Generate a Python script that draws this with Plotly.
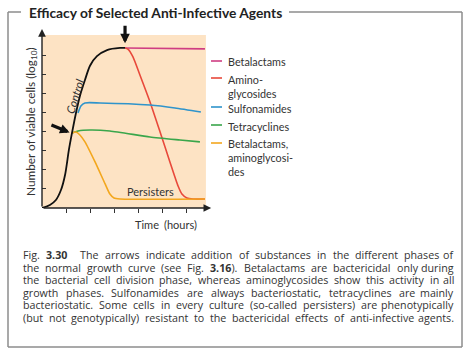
import re
import plotly.graph_objects as go

W, H = 467, 354

# ---------------- data (x: time tick units, y: log10 viable cells) ----------------
control_x = [0, 0.33, 0.58, 0.79, 0.96, 1.12, 1.25, 1.42, 1.6, 1.79, 2.0, 2.29, 2.71, 3.25, 3.46]
control_y = [0, 0.16, 0.42, 0.94, 1.73, 3.04, 3.93, 5.0, 5.95, 6.70, 7.45, 7.95, 8.27, 8.38, 8.38]

betalactams_x = [3.46, 6.79]
betalactams_y = [8.38, 8.33]

amino_x = [3.46, 3.58, 3.79, 4.08, 4.5, 4.92, 5.33, 5.67, 5.83, 6.04, 6.29, 6.79]
amino_y = [8.38, 8.32, 7.91, 6.96, 5.55, 3.98, 2.41, 1.15, 0.73, 0.52, 0.47, 0.47]

sulfo_x = [1.5, 1.62, 1.79, 2.42, 4.5, 5.54, 6.62]
sulfo_y = [4.97, 5.34, 5.50, 5.50, 5.39, 5.24, 5.03]

tetra_x = [1.25, 1.5, 2.0, 2.83, 4.5, 5.75, 6.58]
tetra_y = [3.93, 4.03, 4.08, 4.03, 3.72, 3.56, 3.46]

combo_x = [1.25, 1.42, 1.58, 1.79, 2.21, 2.63, 2.83, 3.0, 3.25, 6.79]
combo_y = [3.93, 3.98, 3.82, 3.46, 2.41, 1.26, 0.73, 0.52, 0.47, 0.47]

series_names = ["Betalactams", "Amino-<br>glycosides", "Sulfonamides", "Tetracyclines",
                "Betalactams,<br>aminoglycosi-<br>des"]
series_colors = ["#cf3d82", "#e8493b", "#2f94cb", "#3aa64b", "#f3a71e"]
series_x = [betalactams_x, amino_x, sulfo_x, tetra_x, combo_x]
series_y = [betalactams_y, amino_y, sulfo_y, tetra_y, combo_y]

y_ticks = [1, 2, 3, 4, 5, 6, 7, 8]
x_ticks = [1, 2, 3, 4, 5, 6]

title_text = "Efficacy of Selected Anti-Infective Agents"
y_title = "Number of viable cells (log<sub>10</sub>)"

caption_lines = [
    "Fig. <b>3.30</b>\u2002 The arrows indicate addition of substances in the different phases of",
    "the normal growth curve (see Fig. <b>3.16</b>). Betalactams are bactericidal only during",
    "the bacterial cell division phase, whereas aminoglycosides show this activity in all",
    "growth phases. Sulfonamides are always bacteriostatic, tetracyclines are mainly",
    "bacteriostatic. Some cells in every culture (so-called persisters) are phenotypically",
    "(but not genotypically) resistant to the bactericidal effects of anti-infective agents.",
]

# ---------------- layout helpers ----------------
def PX(x):
    return x / W


def PY(y):
    return 1 - y / H


FONT = "Lato"
CAP_FONT = "Open Sans"
CAP_SIZE = 10.7
TXT = "#333333"
FRAME = "#8c8c8c"

x_range = [0, 7.2]
y_range = [0, 9.8]
x_dom = [PX(42), PX(42 + 7.2 * 24)]
y_dom = [PY(208), PY(208 - 9.8 * 19.1)]

fig = go.Figure()

# peach background of the growth plot
fig.add_shape(type="rect", xref="x", yref="y", x0=0, x1=6.83, y0=0, y1=9.06,
              fillcolor="#fde3c4", line_width=0, layer="below")

# series curves
for xs, ys, name, col in zip(series_x, series_y, series_names, series_colors):
    fig.add_trace(go.Scatter(x=xs, y=ys, mode="lines", name=name.replace("<br>", " "),
                             line=dict(color=col, width=1.6, shape="spline", smoothing=0.6),
                             showlegend=False, hoverinfo="skip"))

fig.add_trace(go.Scatter(x=control_x, y=control_y, mode="lines", name="Control",
                         line=dict(color="#111111", width=1.8, shape="spline", smoothing=0.8),
                         showlegend=False, hoverinfo="skip"))

# axis arrows
fig.add_annotation(x=0, y=9.37, ax=0, ay=0, xref="x", yref="y", axref="x", ayref="y",
                   text="", showarrow=True, arrowhead=2, arrowsize=1.1, arrowwidth=1.4,
                   arrowcolor="#222222")
fig.add_annotation(x=7.05, y=0, ax=0, ay=0, xref="x", yref="y", axref="x", ayref="y",
                   text="", showarrow=True, arrowhead=2, arrowsize=1.1, arrowwidth=1.4,
                   arrowcolor="#222222")

# black addition arrows
fig.add_annotation(x=3.46, y=8.62, ax=3.46, ay=9.62, xref="x", yref="y", axref="x", ayref="y",
                   text="", showarrow=True, arrowhead=2, arrowsize=0.6, arrowwidth=3.2,
                   arrowcolor="#111111")
fig.add_annotation(x=1.15, y=3.95, ax=0.33, ay=4.38, xref="x", yref="y", axref="x", ayref="y",
                   text="", showarrow=True, arrowhead=2, arrowsize=0.6, arrowwidth=3.2,
                   arrowcolor="#111111")

# in-plot labels
fig.add_annotation(x=1.36, y=5.85, xref="x", yref="y", text="<i>Control</i>", showarrow=False,
                   textangle=-73, font=dict(family=FONT, size=11.5, color=TXT))
fig.add_annotation(x=4.5, y=0.86, xref="x", yref="y", text="Persisters", showarrow=False,
                   font=dict(family=FONT, size=11, color=TXT))

# axis titles
fig.add_annotation(x=PX(21), y=PY(122), xref="paper", yref="paper", text=y_title,
                   showarrow=False, textangle=-90, font=dict(family=FONT, size=11.8, color=TXT))
fig.add_annotation(x=PX(133), y=PY(224), xref="paper", yref="paper", text="Time",
                   showarrow=False, font=dict(family=FONT, size=11, color=TXT))
fig.add_annotation(x=PX(180), y=PY(224), xref="paper", yref="paper", text="(hours)",
                   showarrow=False, font=dict(family=FONT, size=11, color=TXT))

# legend (manual)
legend_y = [61, 78, 107, 125, 143]
for name, col, ly in zip(series_names, series_colors, legend_y):
    fig.add_shape(type="line", xref="paper", yref="paper", x0=PX(211), x1=PX(222),
                  y0=PY(ly), y1=PY(ly), line=dict(color=col, width=1.6))
    fig.add_annotation(x=PX(226), y=PY(ly - 7.5), xref="paper", yref="paper", text=name,
                       showarrow=False, xanchor="left", yanchor="top", align="left",
                       font=dict(family=FONT, size=10.8, color=TXT))

# title
fig.add_annotation(x=PX(27), y=PY(12), xref="paper", yref="paper", text="<b>" + title_text + "</b>",
                   showarrow=False, xanchor="left", yanchor="middle",
                   font=dict(family=FONT, size=13.8, color="#222222"))

# frame
frame_lines = [
    (8, 12, 21, 12), (289, 12, 462, 12), (8, 12, 8, 347), (462, 12, 462, 347), (8, 347, 462, 347)
]
for x0, y0, x1, y1 in frame_lines:
    fig.add_shape(type="line", xref="paper", yref="paper", x0=PX(x0), y0=PY(y0), x1=PX(x1),
                  y1=PY(y1), line=dict(color=FRAME, width=1.5))

# caption, justified word by word using approximate Open Sans advance widths (per 1000 em)
ADV = {
    " ": 260, "\u2002": 500, "(": 296, ")": 296, ",": 245, "-": 322, ".": 266,
    "A": 633, "B": 648, "F": 522, "S": 549, "T": 556,
    "a": 556, "b": 613, "c": 480, "d": 613, "e": 561, "f": 339, "g": 548, "h": 614,
    "i": 253, "j": 253, "k": 525, "l": 253, "m": 930, "n": 614, "o": 604, "p": 613,
    "q": 613, "r": 408, "s": 477, "t": 353, "u": 614, "v": 501, "w": 778, "x": 524,
    "y": 502, "z": 477,
}


def plain(s):
    return re.sub(r"<[^>]+>", "", s)


def est_width(word):
    tot = 0
    for ch in plain(word):
        tot += ADV.get(ch, 572)
    if "<b>" in word:
        tot *= 1.06
    return tot * CAP_SIZE / 1000.0


cx0, cx1 = 22, 455
for i, line in enumerate(caption_lines):
    ly = 255 + i * 12.55
    words = line.split(" ")
    widths = [est_width(w) for w in words]
    gap = (cx1 - cx0 - sum(widths)) / (len(words) - 1)
    xpos = cx0
    for k, (w, wd) in enumerate(zip(words, widths)):
        if k == len(words) - 1:
            xa, xx = "right", cx1
        else:
            xa, xx = "left", xpos
        fig.add_annotation(x=PX(xx), y=PY(ly), xref="paper", yref="paper", text=w,
                           showarrow=False, xanchor=xa, yanchor="middle", borderpad=0,
                           font=dict(family=CAP_FONT, size=CAP_SIZE, color=TXT))
        xpos += wd + gap

fig.update_layout(
    width=W, height=H, margin=dict(l=0, r=0, t=0, b=0),
    paper_bgcolor="white", plot_bgcolor="rgba(0,0,0,0)",
    xaxis=dict(domain=x_dom, range=x_range, showgrid=False, zeroline=False, showline=False,
               tickvals=x_ticks, ticks="outside", ticklen=4, tickcolor="#333333",
               showticklabels=False, fixedrange=True),
    yaxis=dict(domain=y_dom, range=y_range, showgrid=False, zeroline=False, showline=False,
               tickvals=y_ticks, ticks="inside", ticklen=4, tickcolor="#333333",
               showticklabels=False, fixedrange=True),
)

fig.write_html("out.html")
